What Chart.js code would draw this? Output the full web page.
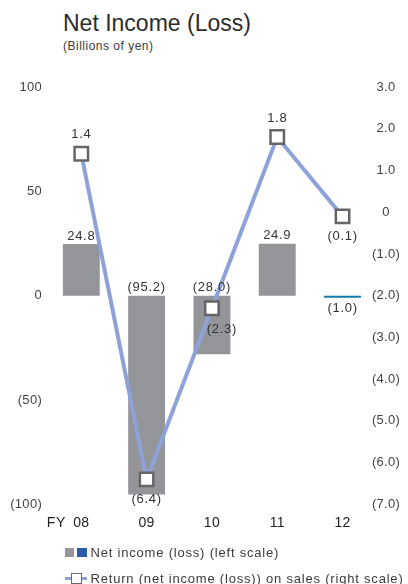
<!DOCTYPE html>
<html>
<head>
<meta charset="utf-8">
<title>Net Income (Loss)</title>
<script src="https://cdn.jsdelivr.net/npm/chart.js@4/dist/chart.umd.min.js"></script>
<style>
  html, body { margin: 0; padding: 0; background: #fff; }
  body {
    width: 408px; height: 584px; position: relative; overflow: hidden;
    font-family: 'Liberation Sans', Arial, Helvetica, sans-serif; color: #333;
  }
  #wrap { position: absolute; left: 0; top: 0; width: 408px; height: 584px; }
  .txt { position: absolute; white-space: nowrap; }
  #title { left: 63px; top: 12px; font-size: 23px; line-height: 23px; color: #2b2b2b; }
  #sub { left: 63px; top: 40px; font-size: 12px; line-height: 12px; letter-spacing: .5px; color: #3a3a3a; }
  .lg { font-size: 13px; line-height: 13px; letter-spacing: .8px; color: #3a3a3a; }
  .sw { position: absolute; box-sizing: border-box; }
</style>
</head>
<body>
<div class="txt" id="title">Net Income (Loss)</div>
<div class="txt" id="sub">(Billions of yen)</div>
<div id="wrap"><canvas id="chart"></canvas></div>

<!-- legend -->
<div class="sw" style="left:65px;top:548px;width:9px;height:9px;background:#939598;"></div>
<div class="sw" style="left:77px;top:548px;width:10px;height:9px;background:#2a5ca8;"></div>
<div class="txt lg" style="left:90.5px;top:546.3px;">Net income (loss) (left scale)</div>
<div class="sw" style="left:65px;top:577px;width:22px;height:2.5px;background:#8da2d8;"></div>
<div class="sw" style="left:71px;top:572.5px;width:11px;height:11px;background:#fff;border:1.6px solid #6a6a6a;"></div>
<div class="txt lg" style="left:90.5px;top:572px;">Return (net income (loss)) on sales (right scale)</div>

<script>
// Fiscal years and results
const fiscalYears = ['08', '09', '10', '11', '12'];
const netIncome = [24.8, -95.2, -28.0, 24.9, -1.0];      // billions of yen (left scale)
const returnOnSales = [1.4, -6.4, -2.3, 1.8, -0.1];      // % (right scale)

// Axis tick values
const leftTicks = [100, 50, 0, -50, -100];
const rightTicks = [3, 2, 1, 0, -1, -2, -3, -4, -5, -6, -7];

// Styling
const FONT = "'Liberation Sans', Arial, Helvetica, sans-serif";
const barColors = ['#939598', '#939598', '#939598', '#939598', '#127fa8'];
const lineColor = '#8da2d8';
const lineLabelPlacement = ['above', 'below', 'below-right', 'above', 'below'];

// Negative numbers in parentheses, zero as a bare "0"
function paren(v, digits) {
  if (v === 0) return '0';
  const s = Math.abs(v).toFixed(digits);
  return v < 0 ? '(' + s + ')' : s;
}

Chart.defaults.font.family = FONT;

const tickSpacing = {
  id: 'tickSpacing',
  beforeDraw(chart) {
    try { chart.ctx.letterSpacing = '0.3px'; } catch (e) {}
  }
};

const valueLabels = {
  id: 'valueLabels',
  afterDatasetsDraw(chart) {
    const c = chart.ctx;
    c.save();
    try { c.letterSpacing = '0.7px'; } catch (e) {}
    c.font = '13px ' + FONT;
    c.fillStyle = '#333';
    c.textAlign = 'center';
    c.textBaseline = 'middle';

    // bar values: above the upper edge, below when the bar is a sliver
    chart.getDatasetMeta(1).data.forEach((el, i) => {
      const top = Math.min(el.y, el.base);
      const bottom = Math.max(el.y, el.base);
      const y = (bottom - top < 6) ? bottom + 11 : top - 8;
      c.fillText(paren(netIncome[i], 1), el.x, y);
    });

    // return-on-sales values next to their markers
    chart.getDatasetMeta(0).data.forEach((pt, i) => {
      const place = lineLabelPlacement[i];
      let dx = 0, dy = 0;
      if (place === 'above') dy = -19;
      else if (place === 'below') dy = 20;
      else if (place === 'below-right') { dx = 10; dy = 21; }
      c.fillText(paren(returnOnSales[i], 1), pt.x + dx, pt.y + dy);
    });

    // "FY" prefix in front of the first year label
    const xs = chart.scales.x;
    try { c.letterSpacing = '0.5px'; } catch (e) {}
    c.font = '14px ' + FONT;
    c.fillStyle = '#222';
    c.fillText('FY', xs.getPixelForTick(0) - 25, chart.chartArea.bottom + 19);
    c.restore();
  }
};

new Chart(document.getElementById('chart'), {
  data: {
    labels: fiscalYears,
    datasets: [
      {
        type: 'line',
        label: 'Return (net income (loss)) on sales (right scale)',
        data: returnOnSales,
        yAxisID: 'yRight',
        borderColor: lineColor,
        borderWidth: 4,
        tension: 0,
        pointStyle: 'rect',
        pointRadius: 9.5,
        pointBackgroundColor: '#ffffff',
        pointBorderColor: '#666666',
        pointBorderWidth: 2.5,
        order: 0
      },
      {
        type: 'bar',
        label: 'Net income (loss) (left scale)',
        data: netIncome,
        yAxisID: 'yLeft',
        backgroundColor: barColors,
        categoryPercentage: 1,
        barPercentage: 0.565,
        order: 1
      }
    ]
  },
  options: {
    responsive: true,
    maintainAspectRatio: false,
    animation: false,
    layout: { padding: { top: 87, bottom: 41.6, left: 0, right: 0 } },
    plugins: { legend: { display: false }, tooltip: { enabled: false } },
    scales: {
      x: {
        grid: { display: false, drawTicks: false },
        border: { display: false },
        ticks: { padding: 10.6, font: { size: 14 }, color: '#222' }
      },
      yLeft: {
        position: 'left',
        min: -100, max: 100,
        afterBuildTicks: s => { s.ticks = leftTicks.map(v => ({ value: v })); },
        afterFit: s => { s.width = 48.65; },
        grid: { display: false, drawTicks: false },
        border: { display: false },
        ticks: { callback: v => paren(v, 0), padding: 6.6, font: { size: 13 }, color: '#444' }
      },
      yRight: {
        position: 'right',
        min: -7, max: 3,
        afterBuildTicks: s => { s.ticks = rightTicks.map(v => ({ value: v })); },
        afterFit: s => { s.width = 32.8; },
        grid: { display: false, drawTicks: false },
        border: { display: false },
        ticks: { callback: v => paren(v, 1), mirror: true, crossAlign: 'center', padding: 24.2, font: { size: 13 }, color: '#444' }
      }
    }
  },
  plugins: [tickSpacing, valueLabels]
});
</script>
</body>
</html>
